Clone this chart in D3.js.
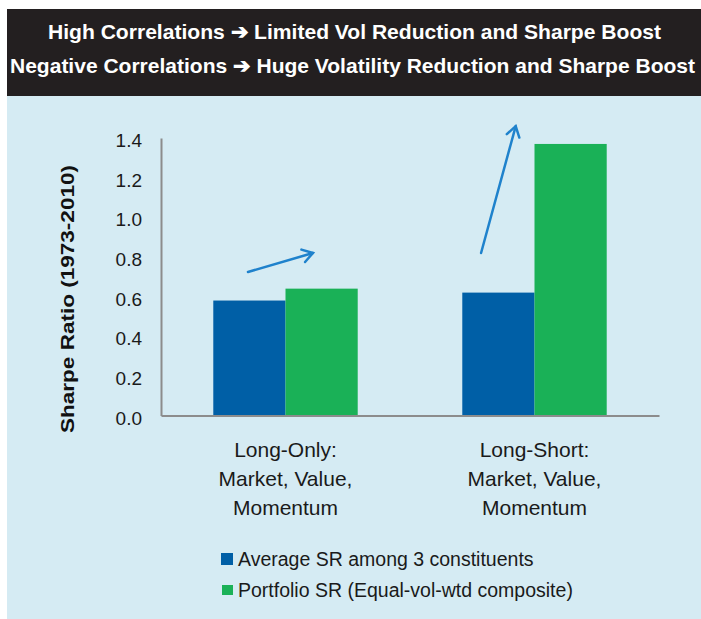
<!DOCTYPE html>
<html>
<head>
<meta charset="utf-8">
<script src="https://cdn.jsdelivr.net/npm/d3@7"></script>
<style>
  html, body { margin: 0; padding: 0; background: #fff; }
  svg { display: block; }
  text { font-family: "Liberation Sans", Arial, sans-serif; }
</style>
</head>
<body>
<svg id="chart" width="701" height="619"></svg>
<script>
const titleLines = [
  "High Correlations \u2794  Limited Vol Reduction and Sharpe Boost",
  "Negative Correlations \u2794  Huge Volatility Reduction and Sharpe Boost"
];
const categories = ["Long-Only", "Long-Short"];
const categoryLabels = [
  ["Long-Only:", "Market, Value,", "Momentum"],
  ["Long-Short:", "Market, Value,", "Momentum"]
];
const seriesNames = ["Average SR among 3 constituents", "Portfolio SR (Equal-vol-wtd composite)"];
const avgSR = [0.58, 0.62];
const portfolioSR = [0.64, 1.37];
const yTicks = [0, 0.2, 0.4, 0.6, 0.8, 1.0, 1.2, 1.4];
const yTitle = "Sharpe Ratio (1973-2010)";
// arrows: category, position within group (0..1), value at start / end
const arrows = [
  { cat: "Long-Only",  x0: 0.24, v0: 0.724, x1: 0.69, v1: 0.82 },
  { cat: "Long-Short", x0: 0.13, v0: 0.82,  x1: 0.37, v1: 1.46 }
];

const W = 701, H = 619;
const plot = { left: 161, right: 659, top: 138, bottom: 415.5 };
const colors = ["#005fa6", "#1ab157"];

const svg = d3.select("#chart");

// panels
svg.append("rect").attr("x", 7).attr("y", 96).attr("width", W - 7).attr("height", H - 96)
  .attr("fill", "#d5ebf3");
svg.append("rect").attr("x", 7).attr("y", 9).attr("width", W - 7).attr("height", 87)
  .attr("fill", "#231f20");

// header text, drawn slightly small then stretched to fill its line
const titleBox = [[48, 661], [10, 695]];
svg.selectAll(".title")
  .data(titleLines)
  .join("text")
  .attr("class", "title")
  .attr("transform", (d, i) => `translate(${titleBox[i][0]},${38.5 + i * 34}) scale(1,1.08)`)
  .attr("textLength", (d, i) => titleBox[i][1] - titleBox[i][0])
  .attr("lengthAdjust", "spacingAndGlyphs")
  .attr("fill", "#fff")
  .style("font", "bold 19.5px 'Liberation Sans Narrow', 'Liberation Sans', Arial, sans-serif")
  .text(d => d);

const x0 = d3.scaleBand().domain(categories).range([plot.left, plot.right])
  .paddingInner(0.42).paddingOuter(0.21);
const x1 = d3.scaleBand().domain([0, 1]).range([0, x0.bandwidth()]);
const y = d3.scaleLinear().domain([0, 1.4]).range([plot.bottom, plot.top]);

// bars
const bars = categories.flatMap((c, i) => [
  { cat: c, s: 0, v: avgSR[i] },
  { cat: c, s: 1, v: portfolioSR[i] }
]);
svg.append("g").selectAll("rect")
  .data(bars)
  .join("rect")
  .attr("x", d => x0(d.cat) + x1(d.s))
  .attr("y", d => y(d.v))
  .attr("width", x1.bandwidth())
  .attr("height", d => y(0) - y(d.v))
  .attr("fill", d => colors[d.s]);

// y axis
const yAxis = svg.append("g")
  .attr("transform", `translate(${plot.left},0)`)
  .call(d3.axisLeft(y).tickValues(yTicks).tickFormat(d3.format(".1f")).tickSize(0).tickPadding(19));
yAxis.select(".domain").attr("stroke", "#8c8c8c").attr("stroke-width", 2);
yAxis.selectAll("text")
  .attr("dy", "0.45em")
  .attr("fill", "#1a1a1a")
  .style("font-size", "19px")
  .style("font-family", "'Liberation Sans', Arial, sans-serif");

// x axis baseline
const xAxis = svg.append("g")
  .attr("transform", `translate(0,${plot.bottom})`)
  .call(d3.axisBottom(x0).tickSize(0).tickFormat(""));
xAxis.select(".domain").attr("stroke", "#8c8c8c").attr("stroke-width", 2);

// category labels
categories.forEach((c, i) => {
  svg.append("text")
    .attr("x", x0(c) + x0.bandwidth() / 2)
    .attr("y", 457)
    .attr("text-anchor", "middle")
    .attr("fill", "#1a1a1a")
    .style("font-size", "21px")
    .selectAll("tspan")
    .data(categoryLabels[i])
    .join("tspan")
    .attr("x", x0(c) + x0.bandwidth() / 2)
    .attr("dy", (d, j) => j === 0 ? 0 : 29)
    .text(d => d);
});

// y title
svg.append("text")
  .attr("transform", `translate(74,${(433 + 165) / 2}) rotate(-90)`)
  .attr("text-anchor", "middle")
  .attr("textLength", 268)
  .attr("lengthAdjust", "spacingAndGlyphs")
  .attr("fill", "#111")
  .style("font", "bold 18.5px 'Liberation Sans', Arial, sans-serif")
  .text(yTitle);

// arrows
const arrowColor = "#1f82cc";
const ag = svg.append("g").attr("stroke", arrowColor).attr("stroke-width", 2.5)
  .attr("fill", "none").attr("stroke-linecap", "round");
arrows.forEach(a => {
  const sx = x0(a.cat) + a.x0 * x0.bandwidth(), sy = y(a.v0);
  const ex = x0(a.cat) + a.x1 * x0.bandwidth(), ey = y(a.v1);
  ag.append("line").attr("x1", sx).attr("y1", sy).attr("x2", ex).attr("y2", ey);
  const ang = Math.atan2(ey - sy, ex - sx);
  const hl = 12, spread = Math.PI / 5.5;
  const p1 = [ex - hl * Math.cos(ang - spread), ey - hl * Math.sin(ang - spread)];
  const p2 = [ex - hl * Math.cos(ang + spread), ey - hl * Math.sin(ang + spread)];
  ag.append("path").attr("d", `M${p1[0]},${p1[1]}L${ex},${ey}L${p2[0]},${p2[1]}`)
    .attr("stroke-linejoin", "miter");
});

// legend
const leg = svg.append("g").selectAll("g")
  .data(seriesNames)
  .join("g")
  .attr("transform", (d, i) => `translate(221,${559 + i * 31})`);
leg.append("rect")
  .attr("x", (d, i) => i === 0 ? 0 : 1)
  .attr("y", (d, i) => i === 0 ? -6 : -5)
  .attr("width", (d, i) => i === 0 ? 12 : 11)
  .attr("height", (d, i) => i === 0 ? 12 : 10)
  .attr("fill", (d, i) => colors[i]);
leg.append("text")
  .attr("x", 17)
  .attr("y", 7)
  .attr("fill", "#1a1a1a")
  .style("font-size", "19.5px")
  .text(d => d);
</script>
</body>
</html>
